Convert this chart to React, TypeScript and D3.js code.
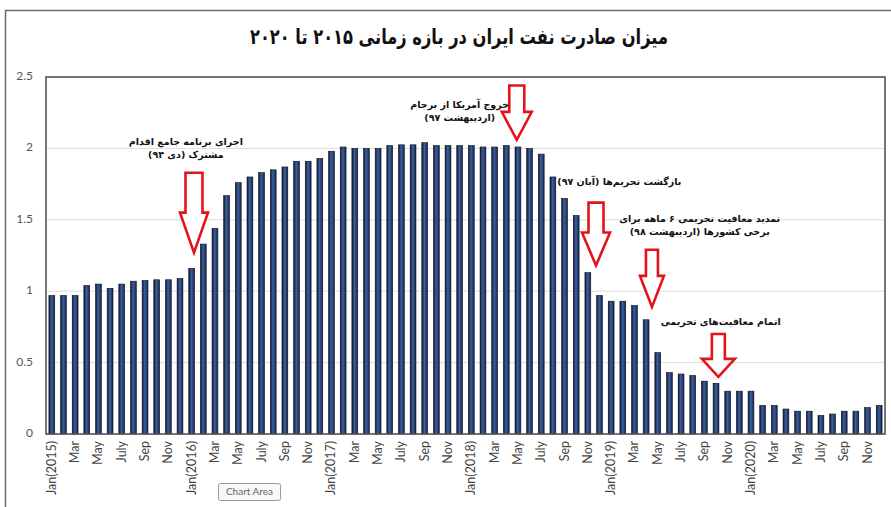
import React from 'react';
import * as d3 from 'd3';

// monthly oil exports, million barrels per day
const years = [2015, 2016, 2017, 2018, 2019, 2020];
const monthNames = ['Jan', 'Feb', 'Mar', 'Apr', 'May', 'Jun', 'July', 'Aug', 'Sep', 'Oct', 'Nov', 'Dec'];
const exports2015 = [0.97, 0.97, 0.97, 1.04, 1.05, 1.02, 1.05, 1.07, 1.075, 1.08, 1.08, 1.09];
const exports2016 = [1.16, 1.33, 1.44, 1.67, 1.76, 1.8, 1.83, 1.85, 1.87, 1.91, 1.91, 1.93];
const exports2017 = [1.98, 2.01, 2.0, 2.0, 2.0, 2.02, 2.025, 2.025, 2.04, 2.02, 2.02, 2.02];
const exports2018 = [2.02, 2.01, 2.01, 2.02, 2.01, 2.0, 1.96, 1.8, 1.65, 1.53, 1.13, 0.97];
const exports2019 = [0.93, 0.93, 0.9, 0.8, 0.57, 0.43, 0.42, 0.41, 0.37, 0.355, 0.3, 0.3];
const exports2020 = [0.3, 0.2, 0.2, 0.175, 0.16, 0.16, 0.13, 0.14, 0.16, 0.16, 0.185, 0.2];
const yTicks = [0, 0.5, 1, 1.5, 2, 2.5];

const title = 'میزان صادرت نفت ایران در بازه زمانی ۲۰۱۵ تا ۲۰۲۰';

// events: month index (fractional), arrow top/tip in data units, label center
const annotations = [
  { lines: ['اجرای برنامه جامع اقدام', 'مشترک (دی ۹۴)'], idx: 12.2, from: 1.83, to: 1.27, labelIdx: 11.5, labelY: 2.04, shaft: 17, head: 28, headLen: 40 },
  { lines: ['خروج آمریکا از برجام', '(اردیبهشت ۹۷)'], idx: 39.9, from: 2.44, to: 2.06, labelIdx: 35.0, labelY: 2.3, shaft: 15, head: 30, headLen: 28 },
  { lines: ['بازگشت تحریم‌ها (آبان ۹۷)'], idx: 46.7, from: 1.62, to: 1.18, labelIdx: 48.7, labelY: 1.76, shaft: 15, head: 28, headLen: 33 },
  { lines: ['تمدید معافیت تحریمی ۶ ماهه برای', 'برخی کشورها (اردیبهشت ۹۸)'], idx: 51.5, from: 1.29, to: 0.89, labelIdx: 55.6, labelY: 1.5, shaft: 12, head: 24, headLen: 31 },
  { lines: ['اتمام معافیت‌های تحریمی'], idx: 57.2, from: 0.7, to: 0.4, labelIdx: 57.4, labelY: 0.78, shaft: 13, head: 33, headLen: 18 },
];

const W = 891;
const H = 507;
const plot = { left: 46, right: 885, top: 77, bottom: 434 };

export default function App() {
  const values = [...exports2015, ...exports2016, ...exports2017, ...exports2018, ...exports2019, ...exports2020];
  const categories = years.flatMap(y => monthNames.map((m, i) => (i === 0 ? `${m}(${y})` : m)));

  const x = d3.scaleBand<number>()
    .domain(d3.range(values.length))
    .range([plot.left, plot.right])
    .paddingInner(0.5)
    .paddingOuter(0.25);
  const y = d3.scaleLinear().domain([0, 2.5]).range([plot.bottom, plot.top]);
  const step = x.step();
  const cx = (i: number) => plot.left + step * (i + 0.5);

  const arrowPath = (a: typeof annotations[number]) => {
    const c = cx(a.idx);
    const top = y(a.from);
    const tip = y(a.to);
    const neck = tip - a.headLen;
    const s = a.shaft / 2;
    const h = a.head / 2;
    return d3.line()([
      [c - s, top], [c + s, top], [c + s, neck], [c + h, neck],
      [c, tip], [c - h, neck], [c - s, neck],
    ]) + 'Z';
  };

  return (
    <div style={{ position: 'fixed', left: 0, top: 0 }}>
      <svg width={W} height={H} style={{ display: 'block', background: '#fff' }}>
        <defs>
          <linearGradient id="barFill" x1="0" x2="1" y1="0" y2="0">
            <stop offset="0%" stopColor="#0d1730" />
            <stop offset="45%" stopColor="#3e5f9f" />
            <stop offset="100%" stopColor="#15244a" />
          </linearGradient>
        </defs>

        {/* outer chart frame */}
        <rect x={5.5} y={10.5} width={W} height={H} fill="none" stroke="#6b6b6b" strokeWidth={1.5} />

        <text x={459} y={38} textAnchor="middle" direction="rtl" dominantBaseline="middle"
          textLength={418} lengthAdjust="spacingAndGlyphs"
          fontFamily="DejaVu Sans" fontWeight="bold" fontSize={21} fill="#111">{title}</text>

        {/* grid */}
        {yTicks.map(t => (
          <line key={t} x1={plot.left} x2={plot.right} y1={y(t)} y2={y(t)} stroke="#dcdcdc" strokeWidth={1} />
        ))}
        {yTicks.map(t => (
          <text key={'l' + t} x={33} y={y(t)} textAnchor="end" dominantBaseline="middle"
            fontFamily="Lato" fontSize={12} fill="#555">{t}</text>
        ))}

        {/* bars */}
        {values.map((v, i) => (
          <rect key={i} x={x(i)} y={y(v)} width={x.bandwidth()} height={y(0) - y(v)}
            fill="url(#barFill)" stroke="#0a0f1e" strokeWidth={0.6} />
        ))}

        {/* plot border */}
        <rect x={plot.left} y={plot.top} width={plot.right - plot.left} height={plot.bottom - plot.top}
          fill="none" stroke="#555" strokeWidth={1.6} />

        {/* x labels, every other month */}
        {categories.map((c, i) => i % 2 === 0 && (
          <text key={'x' + i} transform={`translate(${cx(i) + 4},${plot.bottom + 7}) rotate(-90)`}
            textAnchor="end" fontFamily="Lato" fontSize={12.5} fill="#444">{c}</text>
        ))}

        {/* annotations */}
        {annotations.map((a, k) => (
          <g key={'a' + k}>
            <path d={arrowPath(a)} fill="#fff" stroke="#e3121b" strokeWidth={2.6} strokeLinejoin="miter" />
            {a.lines.map((line, j) => (
              <text key={j} x={cx(a.labelIdx)} y={y(a.labelY) + j * 13} textAnchor="middle" direction="rtl"
                dominantBaseline="middle" fontFamily="DejaVu Sans" fontWeight="bold" fontSize={9.5} fill="#111">{line}</text>
            ))}
          </g>
        ))}

        {/* Excel hover tip captured in the screenshot */}
        <rect x={218.5} y={483.5} width={62} height={17} rx={2} fill="#f7f7f7" stroke="#9a9a9a" />
        <text x={249.5} y={492} textAnchor="middle" dominantBaseline="middle" fontFamily="Lato" fontSize={10} fill="#666">Chart Area</text>
      </svg>
    </div>
  );
}
